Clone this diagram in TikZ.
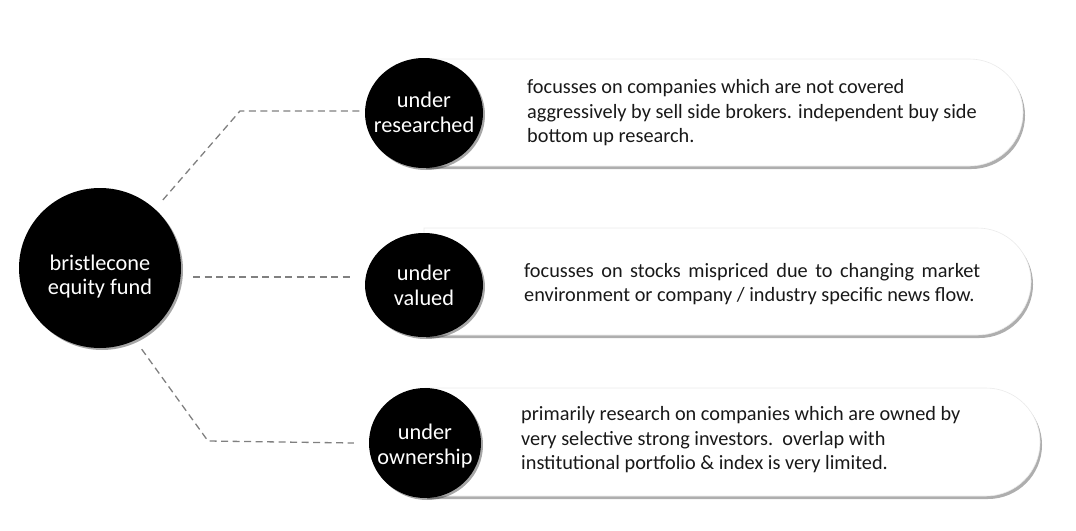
\documentclass[tikz,border=0pt]{standalone}
\usepackage{fontspec}
\setmainfont{Carlito}
\usetikzlibrary{shapes.geometric,shapes.misc,shadows}
\newcommand\zbox[2]{\makebox[0pt]{\smash{\raisebox{#1}{\setlength\tabcolsep{0pt}\begin{tabular}{c}#2\end{tabular}}}}}
\begin{document}
\begin{tikzpicture}[x=1pt,y=-1pt,
  blob/.style={ellipse,fill=black,text=white,inner sep=0pt,
    font=\fontsize{22.3}{24.5}\selectfont,
    drop shadow={shadow xshift=2pt,shadow yshift=-2pt,opacity=0.35,fill=black}},
  pill/.style={rounded rectangle,rounded rectangle left arc=none,fill=white,
    draw=black!8,line width=0.6pt,inner sep=0pt,
    drop shadow={shadow xshift=2pt,shadow yshift=-3pt,opacity=0.45,fill=black!70}},
  desc/.style={anchor=west,align=left,inner sep=0pt,text=black!90,
    font=\fontsize{20.3}{24.5}\selectfont},
  conn/.style={draw=black!50,line width=1.3pt,dash pattern=on 7pt off 4.5pt}]
\useasboundingbox (0,0) rectangle (1076,530);
% boxes
\node[pill,minimum width=599pt,minimum height=107pt] (b1) at (723.5,112.5) {};
\node[pill,minimum width=607pt,minimum height=107pt] (b2) at (727.5,281.5) {};
\node[pill,minimum width=615pt,minimum height=108pt] (b3) at (732.5,442) {};
% circles
\node[blob,minimum width=162pt,minimum height=160pt] (big) at (100,268) {\zbox{-15pt}{bristlecone\\equity fund}};
\node[blob,minimum width=118pt,minimum height=110pt] (r1) at (424,113) {\zbox{-7.5pt}{under\\researched}};
\node[blob,minimum width=118pt,minimum height=104pt] (r2) at (424,285) {\zbox{-8.5pt}{under\\valued}};
\node[blob,minimum width=112pt,minimum height=110pt] (r3) at (425,443) {\zbox{-9.5pt}{under\\ownership}};
% texts
\node[desc] (t1) at (527,113) {focusses on companies which are not covered\\aggressively by sell side brokers. independent buy side\\bottom up research.};
\node[desc] (t2) at (524,284) {\makebox[456pt][s]{focusses on stocks mispriced due to changing market}\\environment or company / industry specific news flow.};
\node[desc] (t3) at (521,440) {primarily research on companies which are owned by\\very selective strong investors.\ \ overlap with\\institutional portfolio \& index is very limited.};
% connectors
\coordinate (c1) at (240,111);
\coordinate (c2) at (193,277);
\coordinate (c3) at (208,441);
\draw[conn,shorten <=12pt] (big.47) -- (c1) -- ([xshift=-5pt]c1 -| r1.west);
\draw[conn] (c2) -- ([xshift=-11pt]c2 -| r2.west);
\draw[conn,shorten <=11pt] (big.-64) -- (c3) -- ([xshift=-15pt]r3.west);
\end{tikzpicture}
\end{document}
